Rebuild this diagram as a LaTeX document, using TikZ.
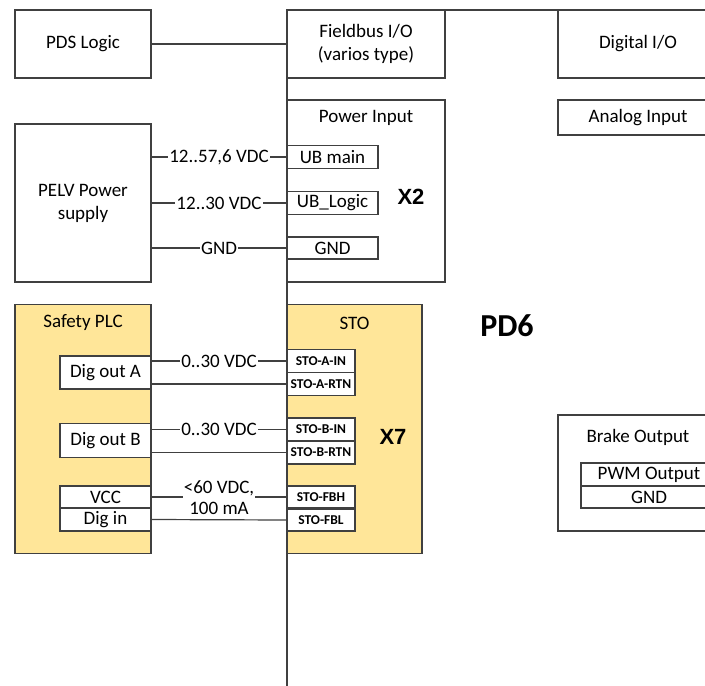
\documentclass[tikz,border=0pt]{standalone}
\usepackage{fontspec}
\setmainfont{Carlito}
\newfontfamily\xfont{Liberation Sans}
\definecolor{linegray}{HTML}{404040}
\definecolor{plcyellow}{HTML}{FFE699}
\begin{document}
\begin{tikzpicture}[x=1pt,y=-1pt,
	box/.style={draw=linegray,line width=1.2pt,rectangle,inner sep=0pt,outer sep=0pt,align=center,font=\fontsize{19}{23}\selectfont},
	pin/.style={box,font=\fontsize{13.5}{15}\selectfont\bfseries},
	wire/.style={draw=linegray,line width=1.2pt},
	lbl/.style={fill=white,inner sep=1pt,font=\fontsize{19}{21}\selectfont,align=center},
	title/.style={font=\fontsize{19}{23}\selectfont},
	conn/.style={font=\xfont\bfseries\fontsize{22}{24}\selectfont}]
	\useasboundingbox (0,0) rectangle (705,686);
	\fill[white] (0,0) rectangle (705,686);
	\node[box,minimum width=136pt,minimum height=68pt] (pds) at (83,44) {PDS Logic};
	\node[box,minimum width=158pt,minimum height=68pt] (fieldbus) at (366,44) {Fieldbus I/O\\(varios type)};
	\node[box,minimum width=160pt,minimum height=68pt] (digio) at (638,44) {Digital I/O};
	\node[box,minimum width=160pt,minimum height=35pt] (analog) at (638,117.5) {Analog Input};
	\node[box,minimum width=158pt,minimum height=182pt] (power) at (366,191) {};
	\node[title] (powertitle) at (366,118) {Power Input};
	\node[box,minimum width=91pt,minimum height=23pt] (ubmain) at (332.5,157) {UB main};
	\node[box,minimum width=91pt,minimum height=23pt] (ublogic) at (332.5,203) {UB\_Logic};
	\node[box,minimum width=91pt,minimum height=22pt] (gndin) at (332.5,248) {GND};
	\node[conn] (x2) at (411,197) {X2};
	\node[box,minimum width=136pt,minimum height=158pt] (pelv) at (83,203) {PELV Power\\supply};
	\node[box,fill=plcyellow,minimum width=136pt,minimum height=249pt] (plc) at (83,429) {};
	\node[title] (plctitle) at (83,323) {Safety PLC};
	\node[box,fill=white,minimum width=91pt,minimum height=33pt] (digouta) at (105.5,372.5) {Dig out A};
	\node[box,fill=white,minimum width=91pt,minimum height=34pt] (digoutb) at (105.5,440.5) {Dig out B};
	\node[box,fill=white,minimum width=91pt,minimum height=22pt] (vcc) at (105.5,497) {VCC};
	\node[box,fill=white,minimum width=91pt,minimum height=23pt] (digin) at (105.5,519.5) {Dig in};
	\node[box,fill=plcyellow,minimum width=135pt,minimum height=249pt] (sto) at (354.5,429) {};
	\node[title] (stotitle) at (354.5,323) {STO};
	\node[pin,fill=white,minimum width=68pt,minimum height=23pt] (stoain) at (321,361) {STO-A-IN};
	\node[pin,fill=white,minimum width=68pt,minimum height=23pt] (stoartn) at (321,384) {STO-A-RTN};
	\node[pin,fill=white,minimum width=68pt,minimum height=23pt] (stobin) at (321,429.5) {STO-B-IN};
	\node[pin,fill=white,minimum width=68pt,minimum height=23pt] (stobrtn) at (321,452.5) {STO-B-RTN};
	\node[pin,fill=white,minimum width=68pt,minimum height=22pt] (stofbh) at (321,497) {STO-FBH};
	\node[pin,fill=white,minimum width=68pt,minimum height=22pt] (stofbl) at (321,520) {STO-FBL};
	\node[conn] (x7) at (393,437) {X7};
	\node[font=\bfseries\fontsize{32}{34}\selectfont] (pd6) at (507,326) {PD6};
	\node[box,minimum width=160pt,minimum height=116pt] (brake) at (638,473) {};
	\node[title] (braketitle) at (638,437) {Brake Output};
	\node[box,minimum width=136pt,minimum height=23pt] (pwm) at (649,474.5) {PWM Output};
	\node[box,minimum width=136pt,minimum height=22pt] (gndout) at (649,497) {GND};
	\coordinate (pdtop) at (705,10);
	\coordinate (pdbot) at (287,686);
	\draw[wire] (pdtop) -- (fieldbus.north west) -- (pdbot);
	\draw[wire] (pds.east) -- (fieldbus.west);
	\draw[wire] (pelv.east |- ubmain) -- node[lbl] {12..57,6 VDC} (ubmain.west);
	\draw[wire] (pelv.east |- ublogic) -- node[lbl] {12..30 VDC} (ublogic.west);
	\draw[wire] (pelv.east |- gndin) -- node[lbl] {GND} (gndin.west);
	\draw[wire] (digouta.east |- stoain) -- node[lbl] {0..30 VDC} (stoain.west);
	\draw[wire] (digouta.east |- stoartn) -- (stoartn.west);
	\draw[wire] (digoutb.east |- stobin) -- node[lbl] {0..30 VDC} (stobin.west);
	\draw[wire] (digoutb.east |- stobrtn) -- (stobrtn.west);
	\draw[wire] (vcc.east) -- (stofbh.west);
	\draw[wire] (digin.east) -- (stofbl.west);
	\node[lbl] (fblbl) at (219,498) {<60 VDC,\\100 mA};
\end{tikzpicture}
\end{document}
